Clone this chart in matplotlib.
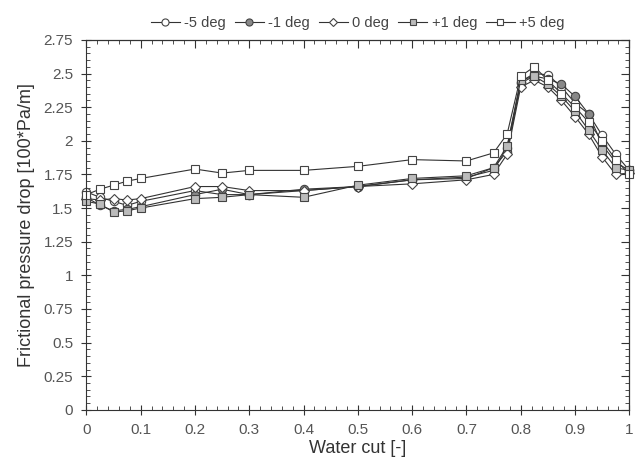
import numpy as np
import matplotlib
matplotlib.use("Agg")
import matplotlib.pyplot as plt
from matplotlib.ticker import MultipleLocator, AutoMinorLocator

plt.rcParams['font.family'] = ['Liberation Sans', 'DejaVu Sans']

# water cut sample points
water_cut = [0, 0.025, 0.05, 0.075, 0.1, 0.2, 0.25, 0.3, 0.4, 0.5, 0.6, 0.7,
             0.75, 0.775, 0.8, 0.825, 0.85, 0.875, 0.9, 0.925, 0.95, 0.975, 1.0]

# frictional pressure drop [100*Pa/m] per inclination
dp_m5 = [1.62, 1.58, 1.55, 1.52, 1.55, 1.63, 1.60, 1.60, 1.63, 1.66, 1.71, 1.73,
         1.78, 1.95, 2.44, 2.50, 2.49, 2.40, 2.28, 2.20, 2.04, 1.90, 1.78]
dp_m1 = [1.58, 1.52, 1.48, 1.49, 1.51, 1.60, 1.64, 1.60, 1.64, 1.66, 1.71, 1.72,
         1.80, 1.92, 2.43, 2.48, 2.46, 2.42, 2.33, 2.20, 1.97, 1.84, 1.78]
dp_0 = [1.57, 1.56, 1.57, 1.56, 1.57, 1.66, 1.66, 1.63, 1.63, 1.66, 1.68, 1.71,
        1.75, 1.90, 2.40, 2.45, 2.40, 2.30, 2.18, 2.05, 1.88, 1.75, 1.76]
dp_p1 = [1.55, 1.53, 1.47, 1.48, 1.50, 1.57, 1.58, 1.60, 1.58, 1.67, 1.72, 1.74,
         1.80, 1.96, 2.45, 2.48, 2.42, 2.33, 2.22, 2.08, 1.93, 1.80, 1.78]
dp_p5 = [1.60, 1.64, 1.67, 1.70, 1.72, 1.79, 1.76, 1.78, 1.78, 1.81, 1.86, 1.85,
         1.91, 2.05, 2.48, 2.55, 2.45, 2.35, 2.25, 2.14, 2.00, 1.86, 1.75]

labels = ["-5 deg", "-1 deg", "0 deg", "+1 deg", "+5 deg"]
y_ticks = [0, 0.25, 0.5, 0.75, 1, 1.25, 1.5, 1.75, 2, 2.25, 2.5, 2.75]
y_tick_labels = ["0", "0.25", "0.5", "0.75", "1", "1.25", "1.5", "1.75", "2", "2.25", "2.5", "2.75"]
x_ticks = [0, 0.1, 0.2, 0.3, 0.4, 0.5, 0.6, 0.7, 0.8, 0.9, 1]
x_tick_labels = ["0", "0.1", "0.2", "0.3", "0.4", "0.5", "0.6", "0.7", "0.8", "0.9", "1"]

fig = plt.figure(figsize=(6.35, 4.69), dpi=100)
ax = fig.add_axes([0.136, 0.126, 0.855, 0.789])

line_col = "#333333"
styles = [("o", "white"), ("o", "#888888"), ("D", "white"), ("s", "#bbbbbb"), ("s", "white")]
sizes = [6, 6, 5, 5.5, 5.5]
series = [dp_m5, dp_m1, dp_0, dp_p1, dp_p5]
for ys, lab, (mk, fc), ms in zip(series, labels, styles, sizes):
    ax.plot(water_cut, ys, color=line_col, lw=0.8, marker=mk, ms=ms,
            mfc=fc, mec="#444444", mew=0.8, label=lab, clip_on=False)

ax.set_xlim(0, 1)
ax.set_ylim(0, 2.75)
ax.set_xticks(x_ticks)
ax.set_xticklabels(x_tick_labels)
ax.set_yticks(y_ticks)
ax.set_yticklabels(y_tick_labels)
ax.xaxis.set_minor_locator(AutoMinorLocator(5))
ax.yaxis.set_minor_locator(AutoMinorLocator(5))
ax.tick_params(which="major", direction="inout", length=7, width=0.8,
               colors="#333333", labelcolor="#555555", labelsize=11, pad=6)
ax.tick_params(which="minor", direction="in", length=3, width=0.6, colors="#333333")
for s in ax.spines.values():
    s.set_color("#333333")
    s.set_linewidth(0.8)

# inward ticks on top and right side
top = ax.secondary_xaxis("top")
top.set_xticks(x_ticks)
top.xaxis.set_minor_locator(AutoMinorLocator(5))
top.tick_params(which="both", direction="in", labeltop=False, colors="#333333")
top.tick_params(which="major", length=6)
top.tick_params(which="minor", length=3)
right = ax.secondary_yaxis("right")
right.set_yticks(y_ticks)
right.yaxis.set_minor_locator(AutoMinorLocator(5))
right.tick_params(which="both", direction="in", labelright=False, colors="#333333")
right.tick_params(which="major", length=6)
right.tick_params(which="minor", length=3)

ax.set_xlabel("Water cut [-]", fontsize=13, color="#333333", labelpad=2)
ax.set_ylabel("Frictional pressure drop [100*Pa/m]", fontsize=13, color="#333333", labelpad=6)

leg = ax.legend(loc="lower center", bbox_to_anchor=(0.5, 1.0), ncol=5, frameon=False,
                fontsize=10.5, handlelength=2.0, handletextpad=0.3, columnspacing=0.6,
                borderaxespad=0.3, labelcolor="#444444", markerscale=0.85)

fig.savefig("out.png", dpi=100)
